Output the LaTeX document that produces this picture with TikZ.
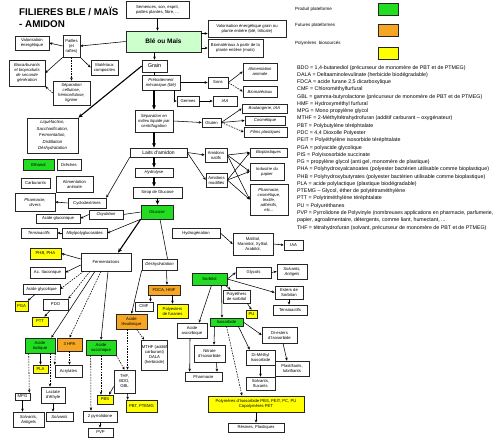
\documentclass[tikz,border=0pt]{standalone}
\usepackage{fontspec}
\usepackage{graphicx}
\setmainfont{Liberation Sans}
\usetikzlibrary{arrows.meta,calc}
\definecolor{pgreen}{HTML}{22DD22}
\definecolor{porange}{HTML}{F6A623}
\definecolor{pyellow}{HTML}{FFFF00}
\definecolor{plgreen}{HTML}{CCFFCC}
\pgfdeclarelayer{bg}
\pgfsetlayers{bg,main}
\newcommand\mybox[7][]{%
 \pgfmathsetmacro\bxw{#5-#3}%
 \pgfmathsetmacro\bxh{#6-#4}%
 \pgfmathsetmacro\bxx{(#3+#5)/2}%
 \pgfmathsetmacro\bxy{(#4+#6)/2}%
 \node[box,#1,minimum width=\bxw pt,minimum height=\bxh pt] (#2) at (\bxx,\bxy) {#7};}
\begin{document}
\begin{tikzpicture}[x=1pt,y=-1pt,
 box/.style={draw=black!85,line width=0.6pt,fill=white,align=center,inner sep=0.3pt,font=\fontsize{4.2}{5}\selectfont},
 it/.style={font=\fontsize{4.2}{5}\selectfont\itshape},
 gfill/.style={fill=pgreen},
 ofill/.style={fill=porange},
 yfill/.style={fill=pyellow},
 lgfill/.style={fill=plgreen},
 arr/.style={-{Stealth[length=3pt,width=2.6pt]},line width=0.55pt},
 darr/.style={arr,dash pattern=on 1.6pt off 1.1pt},
 tarr/.style={-{Stealth[length=4.5pt,width=3.8pt]},line width=1.1pt},
 ln/.style={line width=0.55pt},
 lbl/.style={anchor=base west,inner sep=0,font=\fontsize{4.5}{5}\selectfont},
]
\useasboundingbox[fill=white] (0,0) rectangle (500,441);
% title
\node[anchor=base west,inner sep=0,font=\fontsize{9.8}{11}\selectfont\bfseries] (t1) at (19,16) {FILIERES BLE / MAÏS};
\node[anchor=base west,inner sep=0,font=\fontsize{9.8}{11}\selectfont\bfseries] (t2) at (19,27.3) {- AMIDON};
% legend
\mybox[gfill]{lg1}{378}{3}{398}{15}{}
\mybox[ofill]{lg2}{378}{24}{398}{36}{}
\mybox[yfill]{lg3}{378}{47}{398}{59}{}
\node[lbl] (ll1) at (295,10.5) {Produit plateforme};
\node[lbl] (ll2) at (295,26.5) {Futures plateformes};
\node[lbl] (ll3) at (295,44.5) {Polymères\ \ biosourcés};
\node[anchor=north west,inner sep=0,align=left,font=\fontsize{5.3}{7.27}\selectfont] (leg) at (297,65) {%
BDO = 1,4-butanediol (précurseur de monomère de PBT et de PTMEG)\\
DALA = Deltaaminolevulinate (herbicide biodégradable)\\
FDCA = acide furane 2,5 dicarboxylique\\
CMF = Chlorométhylfurfural\\
GBL = gamma-butyrolactone (précurseur de monomère de PBT et de PTMEG)\\
HMF = Hydroxyméthyl furfural\\
MPG = Mono propylène glycol\\
MTHF = 2-Méthyltétrahydrofuran (additif carburant – oxygénateur)\\
PBT = Polybutylène téréphtalate\\
PDC = 4,4 Dioxolle Polyester\\
PEIT = Polyéthylène isosorbide téréphtalate\\
PGA = polyacide glycolique\\
PIS = Polyisosorbide succinate\\
PG = propylène glycol (anti gel, monomère de plastique)\\
PHA = Polyhydroxyalcanoates (polyester bactérien utilisable comme bioplastique)\\
PHB = Polyhydroxybutyrates (polyester bactérien utilisable comme bioplastique)\\
PLA = acide polylactique (plastique biodégradable)\\
PTEMG – Glycol, éther de polytétraméthylène\\
PTT = Polytriméthylène téréphtalate\\
PU = Polyuréthanes\\
\resizebox{196pt}{\height}{PVP = Pyrrolidone de Polyvinyle (nombreuses applications en pharmacie, parfumerie,}\\
papier, agroalimentaire, détergents, comme liant, humectant, ...\\
THF = tétrahydrofuran (solvant, précurseur de monomère de PBT et de PTMEG)};
% boxes
\mybox{sem}{126}{1}{189}{18}{Semences, son, esprit,\\pailles plantes, fibre, ...}
\mybox[lgfill,font=\fontsize{6.5}{7.5}\selectfont\bfseries]{ble}{126}{31}{201}{52}{Blé ou Maïs}
\mybox{valg}{208}{20}{286}{37}{Valorisation énergétique grain ou\\plante entière (blé, triticale)}
\mybox{biomp}{208}{39}{263}{57}{Biomatériaux à partir de la\\plante entière (maïs)}
\mybox{pail}{63}{35}{80}{57}{Pailles\\(et\\rafles)}
\mybox{vale}{15}{36}{49}{50}{Valorisation\\énergétique}
\mybox[it]{bioc}{9}{60}{45}{86}{Biocarburants\\et bioproduits\\de seconde\\génération}
\mybox{matc}{91}{60}{118}{75}{Matériaux\\composites}
\mybox[it]{sepc}{53}{81}{90}{105}{Séparation\\cellulose,\\hémicellulose,\\lignine}
\mybox[font=\fontsize{5.5}{6}\selectfont]{grain}{142}{60}{167}{72}{Grain}
\mybox[it]{pret}{142}{75}{180}{90}{Prétraitement\\mécanique (blé)}
\mybox[font=\fontsize{4.3}{6.6}\selectfont\itshape]{liq}{27}{118}{78}{153}{Liquéfaction,\\Saccharification,\\Fermentation,\\Distillation\\Déshydratation}
\mybox[gfill]{eth}{23}{159}{54}{170}{Ethanol}
\mybox{dre}{57}{159}{81}{170}{Drêches}
\mybox{carb}{21}{178}{50}{188}{Carburants}
\mybox{alim1}{56}{176}{93}{192}{Alimentation\\animale}
\mybox{sons}{208}{77}{228}{88}{Sons}
\mybox[it]{alim2}{243}{63}{277}{80}{Alimentation\\animale}
\mybox[it]{biom}{243}{86}{277}{97}{Biomatériaux}
\mybox{germ}{177}{96}{199}{106}{Germes}
\mybox[it]{iaa1}{213}{96}{237}{106}{IAA}
\mybox[it]{sepl}{135}{110}{173}{132}{Séparation en\\milieu liquide par\\centrifugation}
\mybox{glut}{202}{118}{221}{127}{Gluten}
\mybox[it]{boul}{242}{104}{287}{113}{Boulangerie, IAA}
\mybox[it]{cosm}{245}{116}{285}{125}{Cosmétique}
\mybox[it]{film}{244}{127}{287}{137}{Films plastiques}
\mybox[font=\fontsize{5}{6}\selectfont]{laits}{130}{148}{187}{157}{Laits d'amidon}
\mybox{amn}{205}{148}{227}{162}{Amidons\\natifs}
\mybox{amm}{206}{173}{227}{187}{Amidons\\modifiés}
\mybox[it]{biopl}{250}{148}{287}{157}{Bioplastiques}
\mybox[it]{pap}{250}{163}{284}{180}{Industrie du\\papier}
\mybox[it]{pharc}{250}{184}{288}{215}{Pharmacie,\\cosmétique,\\textile,\\adhésifs,\\etc...}
\mybox[it]{hydr}{135}{168}{173}{177}{Hydrolyse}
\mybox{sirop}{133}{187}{182}{198}{Sirop de Glucose}
\mybox{cyclo}{68}{198}{106}{208}{Cyclodextrines}
\mybox[it]{phd}{15}{193}{55}{211}{Pharmacie,\\divers}
\mybox[gfill]{gluc}{141}{205}{173}{219}{Glucose}
\mybox[it]{oxy}{89}{210}{123}{219}{Oxydation}
\mybox{acgl}{36}{214}{80}{223}{Acide gluconique}
\mybox{alkyl}{62}{228}{107}{238}{Alkylpolyglucosides}
\mybox[it]{tens1}{21}{228}{57}{238}{Tensioactifs}
\mybox{ferm}{81}{253}{131}{271}{Fermentations}
\mybox[yfill]{phb}{30}{248}{61}{259}{PHB, PHA}
\mybox{itac}{30}{267}{65}{278}{Ac. Itaconique}
\mybox{glyc}{23}{284}{60}{294}{Acide glycolique}
\mybox[yfill]{pga}{15}{301}{28}{311}{PGA}
\mybox{pdo}{43}{299}{68}{310}{PDO}
\mybox[yfill]{ptt}{32}{317}{48}{326}{PTT}
\mybox[gfill]{lact}{25}{338}{55}{353}{Acide\\lactique}
\mybox[ofill]{hpa}{57}{338}{82}{351}{3 HPA}
\mybox[gfill]{succ}{86}{340}{116}{355}{Acide\\succinique}
\mybox[yfill]{pla}{33}{365}{48}{373}{PLA}
\mybox{acry}{55}{365}{82}{377}{Acrylates}
\mybox{mpg}{15}{393}{30}{400}{MPG}
\mybox{lacte}{41}{387}{65}{403}{Lactate\\d'éthyle}
\mybox[it]{solv1}{13}{412}{44}{427}{Solvants,\\Antigels}
\mybox[it]{solv2}{46}{412}{73}{421}{Solvants}
\mybox{thf}{114}{370}{135}{393}{THF,\\BDO,\\GBL}
\mybox[yfill]{pbs}{97}{395}{113}{404}{PBS}
\mybox[yfill]{pbt}{126}{400}{157}{412}{PBT, PTEMG}
\mybox{pyr}{83}{411}{117}{422}{2 pyrrolidone}
\mybox{pvp}{88}{428}{113}{437}{PVP}
\mybox[ofill]{lev}{116}{314}{147}{329}{Acide\\lévulinique}
\mybox[it]{desh}{142}{259}{177}{270}{Déshydratation}
\mybox[ofill]{fdca}{148}{285}{180}{295}{FDCA, HMF}
\mybox{cmf}{135}{302}{153}{311}{CMF}
\mybox[yfill]{polf}{157}{304}{188}{318}{Polyesters\\de furanes}
\mybox{mthf}{142}{340}{167}{370}{MTHF (additif\\carburant)\\DALA\\(herbicide)}
\mybox{asc}{177}{323}{207}{338}{Acide\\ascorbique}
\mybox{pharm}{185}{372}{222}{381}{Pharmacie}
\mybox[gfill]{sorb}{192}{273}{227}{285}{Sorbitol}
\mybox{hydg}{172}{228}{220}{238}{Hydrogénation}
\mybox{malt}{233}{233}{273}{255}{Maltitol,\\Mannitol, Xylitol,\\Arabitol,}
\mybox{iaa2}{284}{240}{303}{250}{IAA}
\mybox{glyco}{236}{267}{271}{278}{Glycols}
\mybox[it]{solv3}{277}{264}{307}{279}{Solvants,\\Antigels}
\mybox{est}{275}{286}{303}{299}{Esters de\\Sorbitan}
\mybox{tens2}{273}{305}{307}{315}{Tensioactifs}
\mybox{polye}{223}{290}{250}{303}{Polyéthers\\de sorbitol}
\mybox[yfill]{pu}{246}{310}{257}{318}{PU}
\mybox[gfill]{iso}{210}{318}{243}{326}{Isosorbide}
\mybox{nitr}{194}{345}{225}{362}{Nitrate\\d'Isosorbide}
\mybox{dies}{262}{327}{297}{343}{Di-esters\\d'Isosorbide}
\mybox{dime}{246}{350}{275}{365}{Di-Méthyl\\Isosorbide}
\mybox{plast}{275}{361}{309}{376}{Plastifiants,\\lubrifiants}
\mybox{solvf}{246}{377}{275}{390}{Solvants,\\fluxants}
\mybox[yfill]{poli}{208}{396}{304}{412}{Polymères d'Isosorbide PBS, PEIT, PC, PU\\Copolymères PET}
\mybox{res}{228}{423}{284}{432}{Résines, Plastiques}
% connectors
\draw[arr] (sem.south) -- (sem.south |- ble.north);
\draw[arr] ([yshift=8pt]ble.east) -- ([yshift=-5pt]valg.west);
\draw[arr] ([yshift=-6.5pt]ble.east) -- (biomp.west);
\draw[arr] (grain.north |- ble.south) -- (grain.north);
\draw[arr] (ble.west) -- (pail.east);
\draw[arr] (pail.west) -- (vale.east);
\draw[arr] (pail.south west) -- (bioc.east);
\draw[arr] (pail.south east) -- (matc.west);
\draw[darr] (pail.south) -- (pail.south |- sepc.north);
\draw[darr] (sepc.west) -- (bioc.south east);
\draw[ln] (grain.south) -- (grain.south |- pret.north);
\draw[tarr] (grain.west) -- (liq.north east);
\draw[arr] (pret.east) -- (sons.west);
\draw[arr] (sons.east) -- (alim2.west);
\draw[darr] (sons.east) -- (biom.west);
\draw[arr] ($(pret.south east)+(-6,0)$) |- (germ.west);
\draw[arr] (germ.east) -- (iaa1.west);
\draw[tarr] (sepl.north |- pret.south) -- (sepl.north);
\draw[arr] (sepl.east) -- (glut.west);
\draw[arr] (glut.east) -- (boul.west);
\draw[arr] (glut.east) -- (cosm.west);
\draw[darr] (glut.east) -- (film.west);
\draw[tarr] (sepl.south) -- (sepl.south |- laits.north);
\draw[arr] (laits.east) -- (amn.west);
\draw[arr] (laits.east) -- (amm.west);
\foreach \a in {amn,amm} \foreach \b in {biopl,pap,pharc} \draw[arr] (\a.east) -- (\b.west);
\draw[tarr] (hydr.north |- laits.south) -- (hydr.north);
\draw[tarr] (hydr.south) -- (hydr.south |- sirop.north);
\draw[tarr] (sirop.south) -- (sirop.south |- gluc.north);
\draw[arr] (laits.south west) -- (cyclo.north east);
\draw[arr] (cyclo.west) -- (phd.east);
\draw[ln] (gluc.west) -- (oxy.east);
\draw[arr] (oxy.west) -- (acgl.east);
\draw[arr] (gluc.south west) -- (alkyl.east);
\draw[arr] (alkyl.west) -- (tens1.east);
\draw[tarr] (gluc.south west) -- ($(ferm.north)+(12,0)$);
\draw[arr] ($(ferm.west)+(0,-3)$) -- (phb.east);
\draw[arr] ($(ferm.west)+(0,3)$) -- (itac.east);
\draw[darr] ($(ferm.south west)+(3,0)$) -- (glyc.east);
\draw[darr] ($(ferm.south)+(-16,0)$) -- (pdo.north east);
\draw[arr] ($(ferm.south)+(-11,0)$) -- ($(lact.north east)+(-4,0)$);
\draw[darr] ($(ferm.south)+(-5,0)$) -- (hpa.north);
\draw[arr] ($(ferm.south)+(2,0)$) -- (succ.north);
\draw[arr] (glyc) -- (pga);
\draw[arr] (pdo) -- (ptt);
\draw[arr] (lact.south -| pla.north) -- (pla.north);
\draw[darr] (lact.south east) -- (acry.north west);
\draw[darr] (hpa.south) -- (hpa.south |- acry.north);
\draw[darr] ($(lact.south west)+(4,0)$) -- ($(mpg.north east)+(-1,0)$);
\draw[darr] ($(lact.south)+(10,0)$) -- ($(lacte.north)+(-3,0)$);
\draw[arr] (mpg.south) -- (mpg.south |- solv1.north);
\draw[arr] (lacte.south) -- (lacte.south |- solv2.north);
\draw[darr] (succ.south east) -- (thf.north);
\draw[darr] (succ.south) -- (succ.south |- pbs.north);
\draw[darr] ($(succ.south west)+(5,0)$) -- ($(pyr.north)+(-9,0)$);
\draw[arr] ($(thf.west)+(0,5)$) -- ($(pbs.north)+(4,0)$);
\draw[arr] ($(thf.south)+(3,0)$) -- ($(pbt.north west)+(2,0)$);
\draw[arr] (pyr.south) -- (pyr.south |- pvp.north);
\draw[ln] ($(gluc.south)+(3,0)$) -- ($(desh.north)+(8,0)$);
\draw[arr] ($(desh.south)+(7,0)$) -- ($(fdca.north)+(3,0)$);
\draw[arr] (desh.south west) -- (lev.north);
\draw[arr] ($(fdca.south west)+(3,0)$) -- ($(cmf.north east)+(-3,0)$);
\draw[arr] (fdca.south -| polf.north) -- (polf.north);
\draw[darr] ($(lev.south)+(-4,0)$) -- ($(thf.north)+(3,0)$);
\draw[darr] ($(lev.south)+(5,0)$) -- ($(mthf.north west)+(3,0)$);
\begin{pgfonlayer}{bg}
\draw[tarr] ($(gluc.south east)+(-6,0)$) -- ($(sorb.north)+(-7,0)$);
\end{pgfonlayer}
\draw[arr] (hydg.east) -- (malt.west);
\draw[arr] (malt.east) -- (iaa2.west);
\draw[arr] (sorb.east) -- (glyco.west);
\draw[arr] (glyco.east) -- (solv3.west);
\draw[arr] (sorb.east) -- (est.west);
\draw[arr] (est.south) -- (est.south |- tens2.north);
\draw[arr] ($(sorb.south east)+(-2,0)$) -- ($(polye.north west)+(8,0)$);
\draw[arr] ($(polye.south east)+(-3,0)$) -- (pu.north);
\draw[arr] ($(sorb.south)+(12,0)$) -- ($(iso.north)+(-4.5,0)$);
\draw[arr] ($(sorb.south)+(2,0)$) -- ($(asc.north)+(7,0)$);
\draw[arr] ($(asc.south)+(-2,0)$) -- ($(pharm.north west)+(5,0)$);
\draw[arr] ($(iso.south)+(-12,0)$) -- ($(nitr.north)+(4.5,0)$);
\draw[arr] ($(nitr.south)+(7,0)$) -- ($(pharm.north)+(13.5,0)$);
\draw[arr] (iso.east) -- (dies.west);
\draw[arr] ($(iso.south east)+(-5,0)$) -- ($(dime.north west)+(4,0)$);
\draw[arr] ($(dies.south)+(3.5,0)$) -- ($(plast.north)+(-5,0)$);
\draw[arr] (dime) -- (solvf);
\draw[darr] (iso.south) -- ($(poli.north)+(-14,0)$);
\draw[arr] (poli) -- (res);
\end{tikzpicture}
\end{document}
